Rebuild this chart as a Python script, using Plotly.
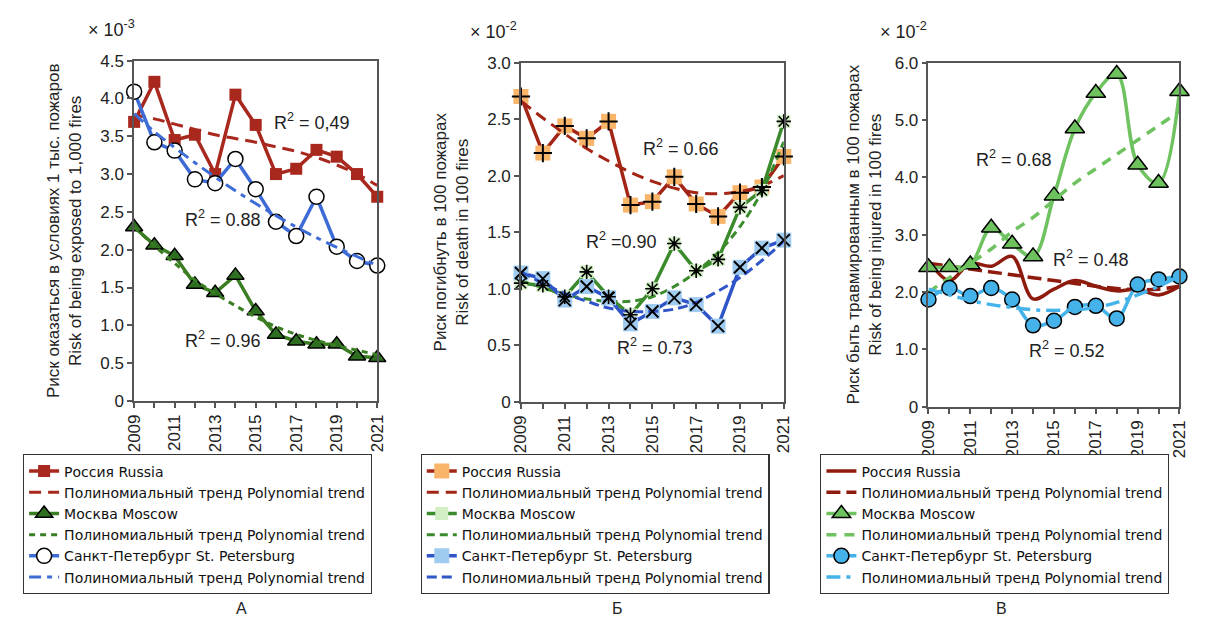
import plotly.graph_objects as go

years = [2009, 2010, 2011, 2012, 2013, 2014, 2015, 2016, 2017, 2018, 2019, 2020, 2021]

# Panel A (x10^-3): risk of being exposed to 1,000 fires
a_russia = [3.69, 4.22, 3.45, 3.52, 3.00, 4.05, 3.65, 3.00, 3.07, 3.32, 3.23, 3.00, 2.70]
a_russia_tr = [3.78, 3.73, 3.66, 3.59, 3.52, 3.47, 3.42, 3.36, 3.30, 3.22, 3.12, 3.00, 2.85]
a_moscow = [2.30, 2.06, 1.92, 1.54, 1.43, 1.66, 1.19, 0.88, 0.79, 0.75, 0.75, 0.59, 0.57]
a_moscow_tr = [2.30, 2.05, 1.82, 1.60, 1.42, 1.26, 1.11, 0.98, 0.88, 0.80, 0.73, 0.67, 0.61]
a_spb = [4.09, 3.42, 3.31, 2.93, 2.88, 3.20, 2.80, 2.37, 2.18, 2.70, 2.04, 1.85, 1.79]
a_spb_tr = [3.80, 3.56, 3.35, 3.15, 2.96, 2.78, 2.61, 2.45, 2.30, 2.16, 2.03, 1.91, 1.79]

# Panel B (x10^-2): risk of death in 100 fires
b_russia = [2.70, 2.20, 2.44, 2.33, 2.48, 1.74, 1.77, 1.99, 1.75, 1.64, 1.85, 1.90, 2.17]
b_russia_tr = [2.66, 2.51, 2.37, 2.24, 2.13, 2.03, 1.95, 1.89, 1.85, 1.84, 1.86, 1.91, 2.00]
b_moscow = [1.05, 1.03, 0.93, 1.15, 0.93, 0.77, 1.00, 1.40, 1.16, 1.26, 1.72, 1.87, 2.48]
b_moscow_tr = [1.07, 1.01, 0.95, 0.91, 0.89, 0.89, 0.93, 1.02, 1.15, 1.32, 1.55, 1.86, 2.30]
b_spb = [1.14, 1.09, 0.90, 1.02, 0.92, 0.69, 0.80, 0.92, 0.86, 0.67, 1.19, 1.36, 1.43]
b_spb_tr = [1.15, 1.05, 0.96, 0.89, 0.83, 0.80, 0.80, 0.82, 0.88, 0.98, 1.10, 1.25, 1.42]

# Panel C (x10^-2): risk of being injured in 100 fires
c_russia = [2.55, 2.20, 2.50, 2.45, 2.62, 1.88, 2.05, 2.20, 2.10, 2.02, 2.05, 1.95, 2.10]
c_russia_tr = [2.50, 2.45, 2.40, 2.35, 2.30, 2.25, 2.20, 2.15, 2.10, 2.06, 2.04, 2.05, 2.10]
c_moscow = [2.43, 2.43, 2.48, 3.12, 2.84, 2.62, 3.68, 4.85, 5.47, 5.80, 4.22, 3.90, 5.50]
c_moscow_tr = [2.00, 2.25, 2.50, 2.75, 3.05, 3.30, 3.60, 3.90, 4.15, 4.40, 4.65, 4.90, 5.15]
c_spb = [1.87, 2.07, 1.93, 2.07, 1.87, 1.42, 1.50, 1.74, 1.76, 1.54, 2.13, 2.22, 2.27]
c_spb_tr = [2.05, 1.95, 1.85, 1.78, 1.73, 1.69, 1.68, 1.69, 1.73, 1.82, 1.95, 2.10, 2.28]

ticks_a = [0, 0.5, 1.0, 1.5, 2.0, 2.5, 3.0, 3.5, 4.0, 4.5]
ticks_a_txt = ["0", "0.5", "1.0", "1.5", "2.0", "2.5", "3.0", "3.5", "4.0", "4.5"]
ticks_b = [0, 0.5, 1.0, 1.5, 2.0, 2.5, 3.0]
ticks_b_txt = ["0", "0.5", "1.0", "1.5", "2.0", "2.5", "3.0"]
ticks_c = [0, 1.0, 2.0, 3.0, 4.0, 5.0, 6.0]
ticks_c_txt = ["0", "1.0", "2.0", "3.0", "4.0", "5.0", "6.0"]
year_txt = ["2009", "", "2011", "", "2013", "", "2015", "", "2017", "", "2019", "", "2021"]

names = ["Россия Russia", "Полиномиальный тренд Polynomial trend",
         "Москва Moscow", "Полиномиальный тренд Polynomial trend",
         "Санкт-Петербург St. Petersburg", "Полиномиальный тренд Polynomial trend"]

FONT = "Liberation Sans, Arial, sans-serif"
LFONT = "DejaVu Sans, Liberation Sans, sans-serif"
fig = go.Figure()


def add(x, y, name, xa, ya, leg, color, width=3.5, dash="solid", shape="linear",
        marker=None, showlegend=True):
    kw = dict(x=x, y=y, name=name, xaxis=xa, yaxis=ya, legend=leg,
              line=dict(color=color, width=width, dash=dash, shape=shape),
              cliponaxis=False, showlegend=showlegend)
    if marker is not None:
        kw["mode"] = "lines+markers"
        kw["marker"] = marker
    else:
        kw["mode"] = "lines"
    fig.add_trace(go.Scatter(**kw))


def overlay(x, y, xa, ya, symbol, size, lw=2):
    fig.add_trace(go.Scatter(x=x, y=y, xaxis=xa, yaxis=ya, mode="markers", showlegend=False,
                             cliponaxis=False,
                             marker=dict(symbol=symbol, size=size, color="black",
                                         line=dict(color="black", width=lw))))

# ---- Panel A
RA, GA, BA = "#a8281e", "#3b7d23", "#3e6cd6"
add(years, a_russia, names[0], "x", "y", "legend", RA,
    marker=dict(symbol="square", size=12, color=RA, line=dict(width=0)))
add(years, a_russia_tr, names[1], "x", "y", "legend", RA, width=3, dash="12px,7px", shape="spline")
add(years, a_moscow, names[2], "x", "y", "legend", GA,
    marker=dict(symbol="triangle-up", size=15, color="#2f6f22", line=dict(color="black", width=1.5)))
add(years, a_moscow_tr, names[3], "x", "y", "legend", GA, width=3, dash="6px,5px", shape="spline")
add(years, a_spb, names[4], "x", "y", "legend", BA,
    marker=dict(symbol="circle", size=15, color="white", line=dict(color="black", width=1.5)))
add(years, a_spb_tr, names[5], "x", "y", "legend", BA, width=3, dash="12px,6px,5px,6px", shape="spline")

# ---- Panel B
RB, GB, BB = "#a32515", "#3b8a2c", "#2f55c8"
add(years, b_russia, names[0], "x2", "y2", "legend2", RB,
    marker=dict(symbol="square", size=15, color="#f9b66b", line=dict(width=0)))
add(years, b_russia_tr, names[1], "x2", "y2", "legend2", RB, width=3, dash="12px,7px", shape="spline")
add(years, b_moscow, names[2], "x2", "y2", "legend2", GB,
    marker=dict(symbol="square", size=13, color="#d2eec3", line=dict(width=0)))
add(years, b_moscow_tr, names[3], "x2", "y2", "legend2", GB, width=3, dash="8px,5px", shape="spline")
add(years, b_spb, names[4], "x2", "y2", "legend2", BB,
    marker=dict(symbol="square", size=15, color="#9fcbf0", line=dict(width=0)))
add(years, b_spb_tr, names[5], "x2", "y2", "legend2", BB, width=3, dash="10px,5px", shape="spline")
overlay(years, b_russia, "x2", "y2", "cross-thin-open", 13)
overlay(years, b_moscow, "x2", "y2", "asterisk-open", 12, 1.6)
overlay(years, b_spb, "x2", "y2", "x-thin-open", 12)

# ---- Panel C
RC, GC, BC = "#8e1b0e", "#6fc260", "#45b3ea"
add(years, c_russia, names[0], "x3", "y3", "legend3", RC, shape="spline")
add(years, c_russia_tr, names[1], "x3", "y3", "legend3", RC, width=3.5, dash="14px,6px", shape="spline")
add(years, c_moscow, names[2], "x3", "y3", "legend3", GC, shape="spline",
    marker=dict(symbol="triangle-up", size=17, color="#6ec25d", line=dict(color="black", width=1.5)))
add(years, c_moscow_tr, names[3], "x3", "y3", "legend3", GC, width=3.5, dash="10px,8px", shape="spline")
add(years, c_spb, names[4], "x3", "y3", "legend3", BC, shape="spline",
    marker=dict(symbol="circle", size=15, color=BC, line=dict(color="black", width=1.5)))
add(years, c_spb_tr, names[5], "x3", "y3", "legend3", BC, width=3.5, dash="14px,6px,4px,6px", shape="spline")

W, H = 1212, 624


def px_x(p):
    return p / W


def px_y(p):
    return 1 - p / H


axis_common = dict(showline=True, linecolor="#555", linewidth=1.5, mirror=True,
                   showgrid=False, zeroline=False, ticks="outside", ticklen=5,
                   tickcolor="#555", tickwidth=1.5,
                   tickfont=dict(family=FONT, size=17, color="#222"))

doms = {
    "a": ([px_x(119), px_x(366)], [px_y(396), px_y(45)]),
    "b": ([px_x(512), px_x(779)], [px_y(397), px_y(47)]),
    "c": ([px_x(926), px_x(1181)], [px_y(402), px_y(47)]),
}

titles = {
    "a": "Риск оказаться в условиях 1 тыс. пожаров<br>Risk of being exposed to 1,000 fires",
    "b": "Риск погибнуть в 100 пожарах<br>Risk of death in 100 fires",
    "c": "Риск быть травмированным в 100 пожарах<br>Risk of being injured in 100 fires",
}
standoffs = {"a": 14, "b": 14, "c": 9}

layout = dict(width=W, height=H, autosize=False, margin=dict(l=0, r=0, t=0, b=0),
              paper_bgcolor="white", plot_bgcolor="white",
              font=dict(family=FONT, color="#222"))

for key, xa, ya, anc_x, anc_y, rng, tv, tt in [
    ("a", "xaxis", "yaxis", "y", "x", [0, 4.5], ticks_a, ticks_a_txt),
    ("b", "xaxis2", "yaxis2", "y2", "x2", [0, 3.0], ticks_b, ticks_b_txt),
    ("c", "xaxis3", "yaxis3", "y3", "x3", [0, 6.0], ticks_c, ticks_c_txt),
]:
    dx, dy = doms[key]
    layout[xa] = dict(axis_common, domain=dx, anchor=anc_x, range=[2009, 2021],
                      tickvals=years, ticktext=year_txt, tickangle=-90)
    layout[ya] = dict(axis_common, domain=dy, anchor=anc_y, range=rng,
                      tickvals=tv, ticktext=tt,
                      title=dict(text=titles[key], font=dict(family=FONT, size=17, color="#222"),
                                 standoff=standoffs[key]))

leg_common = dict(bgcolor="white", bordercolor="#333", borderwidth=1.2,
                  font=dict(family=LFONT, size=14, color="#111"), tracegroupgap=0,
                  xanchor="left", yanchor="top", itemwidth=30,
                  traceorder="normal")
layout["legend"] = dict(leg_common, x=px_x(6), y=px_y(451))
layout["legend2"] = dict(leg_common, x=px_x(410), y=px_y(451))
layout["legend3"] = dict(leg_common, x=px_x(816), y=px_y(451))

ann = []
for xr, yr, txt in [("x", "y", "× 10<sup>-3</sup>"), ("x2", "y2", "× 10<sup>-2</sup>"),
                    ("x3", "y3", "× 10<sup>-2</sup>")]:
    ann.append(dict(xref=xr + " domain", yref=yr + " domain", x=-0.2, y=1.0, yshift=19,
                    xanchor="left", yanchor="bottom", showarrow=False, text=txt,
                    font=dict(family=FONT, size=18, color="#222")))

r2 = [("x", "y", 2017.8, 3.69, "R<sup>2</sup> = 0,49"),
      ("x", "y", 2013.4, 2.41, "R<sup>2</sup> = 0.88"),
      ("x", "y", 2013.4, 0.81, "R<sup>2</sup> = 0.96"),
      ("x2", "y2", 2016.3, 2.245, "R<sup>2</sup> = 0.66"),
      ("x2", "y2", 2013.6, 1.43, "R<sup>2</sup> =0.90"),
      ("x2", "y2", 2015.1, 0.49, "R<sup>2</sup> = 0.73"),
      ("x3", "y3", 2013.1, 4.33, "R<sup>2</sup> = 0.68"),
      ("x3", "y3", 2016.75, 2.58, "R<sup>2</sup> = 0.48"),
      ("x3", "y3", 2015.6, 0.99, "R<sup>2</sup> = 0.52")]
for xr, yr, x, y, t in r2:
    ann.append(dict(xref=xr, yref=yr, x=x, y=y, text=t, showarrow=False,
                    font=dict(family=FONT, size=18, color="#222")))

for x, t in [(228, "А"), (610, "Б"), (1000, "В")]:
    ann.append(dict(xref="paper", yref="paper", x=px_x(x), y=px_y(610), text=t,
                    xanchor="center", yanchor="middle",
                    showarrow=False, font=dict(family=FONT, size=16, color="#222")))

layout["annotations"] = ann
fig.update_layout(**layout)
fig.write_html("out.html")
